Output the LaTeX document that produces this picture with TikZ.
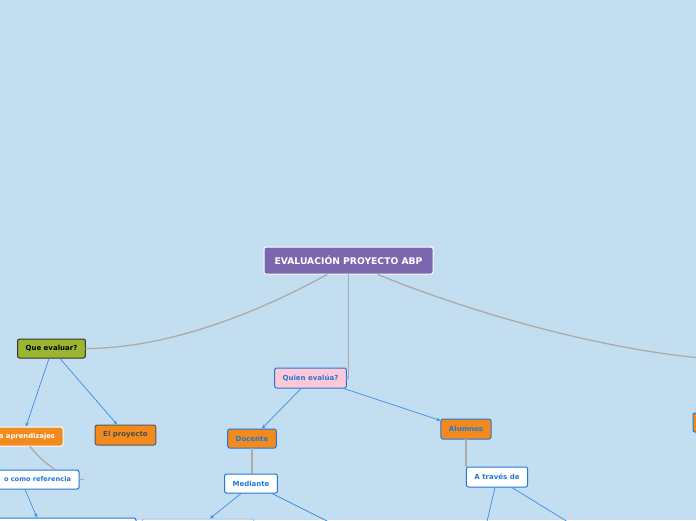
\documentclass[tikz,border=0pt]{standalone}
\usepackage{fontspec}
\setmainfont{DejaVu Sans}
\usepackage{tikz}
\usetikzlibrary{arrows.meta}
\definecolor{bgblue}{HTML}{C2DEF0}
\definecolor{rootpurple}{HTML}{7B67AD}
\definecolor{olive}{HTML}{9AB62E}
\definecolor{orng}{HTML}{F28A1E}
\definecolor{pinky}{HTML}{FFC8D6}
\definecolor{bluetx}{HTML}{2277D8}
\definecolor{bluearr}{HTML}{3A8EE6}
\definecolor{tiegray}{HTML}{ABABAB}
\definecolor{lightrim}{HTML}{9DC7EE}

\begin{document}
\begin{tikzpicture}[x=1pt, y=-1pt,
    box/.style={draw, rounded corners=2pt, line width=1pt, font=\fontsize{7}{8}\selectfont\bfseries,
      minimum height=19pt, inner xsep=8pt, inner ysep=0pt},
    orbox/.style={box, fill=orng, draw=bluetx, text=bluetx},
    whbox/.style={box, fill=white, draw=bluetx, text=bluetx},
    link/.style={bluearr, line width=.7pt, -{Stealth[length=4pt,width=3.5pt]}},
    tie/.style={tiegray, line width=1.3pt, line cap=round}]
  \useasboundingbox (0,0) rectangle (696,520);
  \clip (0,0) rectangle (696,520);
  \fill[bgblue] (0,0) rectangle (696,520);

  \node[box, fill=rootpurple, draw=white, text=white, minimum width=169pt, minimum height=27pt,
    font=\fontsize{9.2}{10}\selectfont\bfseries] (root) at (348.5,260.5) {EVALUACIÓN PROYECTO ABP};
  \node[box, fill=olive, draw=black!80, text=black, minimum width=67pt] (que) at (51.5,348.5) {Que evaluar?};
  \node[box, fill=pinky, draw=bluetx, text=bluetx, minimum width=71pt, minimum height=20pt] (quien) at (310.5,378) {Quien evalúa?};
  \node[box, fill=orng, draw=white, text=white, text width=64pt, align=right,
    font=\fontsize{6.8}{8}\selectfont\bfseries] (apr) at (23,436.5) {s aprendizajes};
  \node[box, fill=orng, draw=black!65, text=black!70, minimum width=59pt, minimum height=20pt] (proy) at (125.5,435) {El proyecto};
  \node[whbox, text width=72pt, align=right, font=\fontsize{6.6}{8}\selectfont\bfseries] (ref) at (35,479.5) {o como referencia};
  \node[orbox, minimum width=48pt] (doc) at (252,438.5) {Docente};
  \node[whbox, minimum width=52pt] (med) at (251,483.5) {Mediante};
  \node[orbox, minimum width=50pt, minimum height=20pt] (alu) at (466,429) {Alumnos};
  \node[whbox, minimum width=60pt, minimum height=20pt] (atr) at (497,477) {A través de};
  \node[whbox, minimum width=192pt, minimum height=24pt] (low) at (40,530) {};
  \node[box, fill=white, draw=lightrim, minimum width=112pt, minimum height=24pt] (tool) at (198,531) {};
  \node[orbox, minimum width=74pt] (how) at (730,422.5) {};
  \coordinate (howroot) at (760,361);
  \coordinate (medr) at (345,530);
  \coordinate (atrl) at (485,530);
  \coordinate (atrr) at (581,530);

  \draw[tie] ([xshift=-21.5pt]root.south) .. controls +(-65,36) and +(84,0) .. (que.east);
  \draw[tie] ([xshift=29.5pt]root.south) .. controls +(72,30) and +(-140,0) .. (howroot);
  \draw[tie] (root.south) |- (quien.east);
  \draw[tie] ([xshift=7pt]apr.south) to[bend right=8] ([xshift=20pt]ref.north);
  \draw[tie, line width=.8pt] (ref.east) -- ++(4,0);
  \draw[tie] (doc.south) -- (doc.south |- med.north);
  \draw[tie] (alu.south) -- (alu.south |- atr.north);

  \draw[link] ([xshift=-2.5pt]que.south) -- ([xshift=3pt]apr.north);
  \draw[link] ([xshift=8.5pt]que.south) -- ([xshift=-8.5pt]proy.north);
  \draw[link] ([xshift=-10pt]ref.south) -- ([xshift=-3pt]low.north);
  \draw[link] ([xshift=-9.5pt]quien.south) -- ([xshift=10pt]doc.north);
  \draw[link] ([xshift=-3pt]quien.south east) -- ([yshift=-2pt]alu.north west);
  \draw[link] ([xshift=-10pt]med.south) -- ([xshift=12pt]tool.north);
  \draw[link] ([xshift=21pt]med.south) -- (medr);
  \draw[link] ([xshift=-2pt]atr.south) -- (atrl);
  \draw[link] ([xshift=15pt]atr.south) -- (atrr);
\end{tikzpicture}
\end{document}
